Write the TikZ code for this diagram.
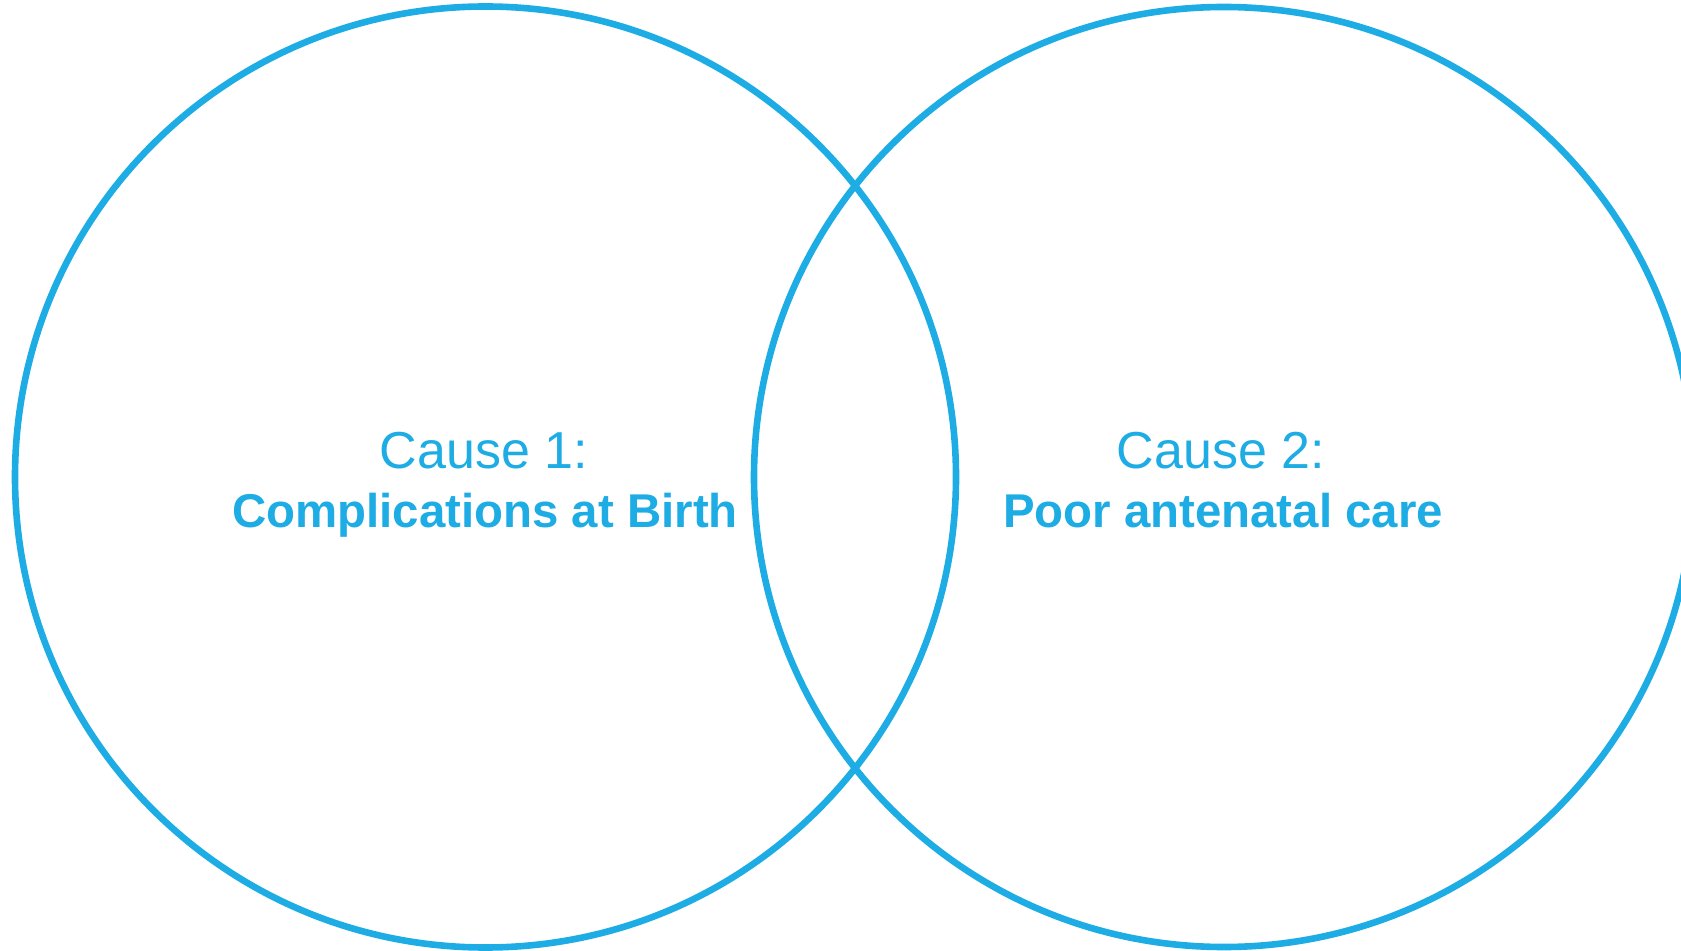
\documentclass[tikz,border=0pt]{standalone}
\usepackage{fontspec}
\setmainfont{Liberation Sans}
\definecolor{vennblue}{RGB}{30,172,228}
\begin{document}
\begin{tikzpicture}[x=0.5pt,y=-0.5pt,
  venn/.style={circle,draw=vennblue,line width=3.3pt,inner sep=0pt,outer sep=0pt,minimum size=#1},
  headline/.style={text=vennblue,anchor=base,inner sep=0pt,font=\fontsize{26pt}{30pt}\selectfont},
  causeline/.style={text=vennblue,anchor=base,inner sep=0pt,font=\fontsize{23.7pt}{28pt}\selectfont\bfseries}]
  \useasboundingbox (0,0) rectangle (1681,951);
  \clip (0,0) rectangle (1681,951);
  % the two overlapping sets
  \node[venn=470.5pt] (setA) at (485.5,477) {};
  \node[venn=470pt] (setB) at (1224,477) {};
  % labels
  \node[headline] (titleA) at (484,469) {Cause 1:};
  \node[causeline] (nameA) at (485,528) {Complications at Birth};
  \node[headline] (titleB) at (1221,469) {Cause 2:};
  \node[causeline] (nameB) at (1223,528) {Poor antenatal care};
\end{tikzpicture}
\end{document}
